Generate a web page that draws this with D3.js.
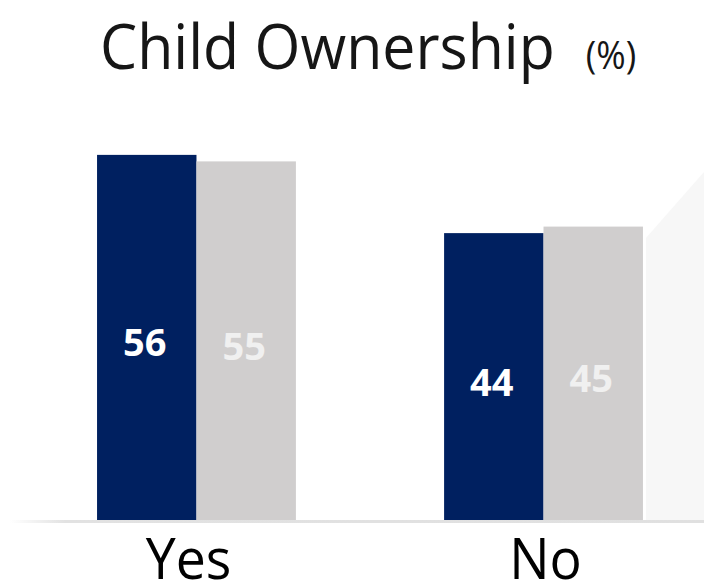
<!DOCTYPE html>
<html>
<head>
<meta charset="utf-8">
<script src="https://cdn.jsdelivr.net/npm/d3@7/dist/d3.min.js"></script>
<style>
  html, body { margin: 0; padding: 0; background: #ffffff; }
  svg { display: block; }
</style>
</head>
<body>
<svg id="chart" width="704" height="588"></svg>
<script>
// Child ownership, share of respondents (%)
const categories = ["Yes", "No"];
const seriesNames = ["Current", "Previous"];
const currentValues = [56, 44];
const previousValues = [55, 45];
const seriesColors = ["#002060", "#d0cece"];
const labelColors = ["#ffffff", "#f0f0f0"];

const W = 704, H = 588;
const svg = d3.select("#chart");

const rows = categories.map((c, i) => ({
  category: c,
  values: [
    { series: seriesNames[0], value: currentValues[i] },
    { series: seriesNames[1], value: previousValues[i] }
  ]
}));

const x0 = d3.scaleBand()
  .domain(categories)
  .range([20, 720])
  .paddingInner(0.427)
  .paddingOuter(0.222);

const x1 = d3.scaleBand()
  .domain(seriesNames)
  .range([0, x0.bandwidth()])
  .padding(0);

const y = d3.scaleLinear()
  .domain([0, 60])
  .range([520, 128.8]);

const color = d3.scaleOrdinal().domain(seriesNames).range(seriesColors);
const labelColor = d3.scaleOrdinal().domain(seriesNames).range(labelColors);

// faint slide backdrop on the right
svg.append("polygon")
  .attr("points", "646,238 704,172 704,520 646,520")
  .attr("fill", "#f7f7f7");

// baseline
const defs = svg.append("defs");
const grad = defs.append("linearGradient").attr("id", "baseFade")
  .attr("x1", "0").attr("x2", "1").attr("y1", "0").attr("y2", "0");
grad.append("stop").attr("offset", "0").attr("stop-color", "#ffffff");
grad.append("stop").attr("offset", "0.08").attr("stop-color", "#e2e2e2");
grad.append("stop").attr("offset", "1").attr("stop-color", "#e0e0e0");

svg.append("rect")
  .attr("x", 10).attr("y", y(0))
  .attr("width", W - 10).attr("height", 3)
  .attr("fill", "url(#baseFade)");

// grouped bars
const groups = svg.append("g").selectAll("g")
  .data(rows)
  .join("g")
  .attr("transform", d => `translate(${x0(d.category)},0)`);

groups.selectAll("rect")
  .data(d => d.values)
  .join("rect")
  .attr("x", d => x1(d.series))
  .attr("y", d => y(d.value))
  .attr("width", x1.bandwidth())
  .attr("height", d => y(0) - y(d.value))
  .attr("fill", d => color(d.series));

// value labels inside bars
groups.selectAll("text")
  .data(d => d.values)
  .join("text")
  .attr("x", d => x1(d.series) + x1.bandwidth() / 2 - 2)
  .attr("y", d => (y(d.value) + y(0)) / 2 + 4)
  .attr("text-anchor", "middle")
  .attr("dominant-baseline", "central")
  .attr("font-family", "'Open Sans', 'Noto Sans', sans-serif")
  .attr("font-weight", 700)
  .attr("font-size", 38)
  .attr("fill", d => labelColor(d.series))
  .text(d => d.value);

// category axis labels
const xAxis = d3.axisBottom(x0).tickSize(0).tickPadding(0);
const axisG = svg.append("g")
  .attr("transform", `translate(0,${y(0)})`)
  .call(xAxis);
axisG.select(".domain").remove();
axisG.selectAll(".tick text")
  .attr("y", 59)
  .attr("dy", 0)
  .attr("x", d => d === "Yes" ? -8 : 2)
  .attr("font-family", "'Open Sans', 'Noto Sans', sans-serif")
  .attr("font-size", 57)
  .attr("fill", "#000000")
  .each(function () {
    const t = d3.select(this);
    const w = this.getComputedTextLength();
    t.attr("textLength", w * 0.94).attr("lengthAdjust", "spacingAndGlyphs");
  });

// title: main text plus a smaller unit suffix, condensed horizontally
const title = svg.append("text")
  .attr("font-family", "'Open Sans', 'Noto Sans', sans-serif")
  .attr("fill", "#161616");
const mainSpan = title.append("tspan")
  .attr("font-size", 63)
  .text("Child Ownership");
const mainWidth = mainSpan.node().getComputedTextLength();
const sx = 455 / mainWidth;
title.append("tspan")
  .attr("font-size", 38)
  .attr("dx", 31 / sx)
  .attr("dy", 0)
  .text("(%)");
title.attr("transform", `translate(100,69) scale(${sx},1)`);
</script>
</body>
</html>
